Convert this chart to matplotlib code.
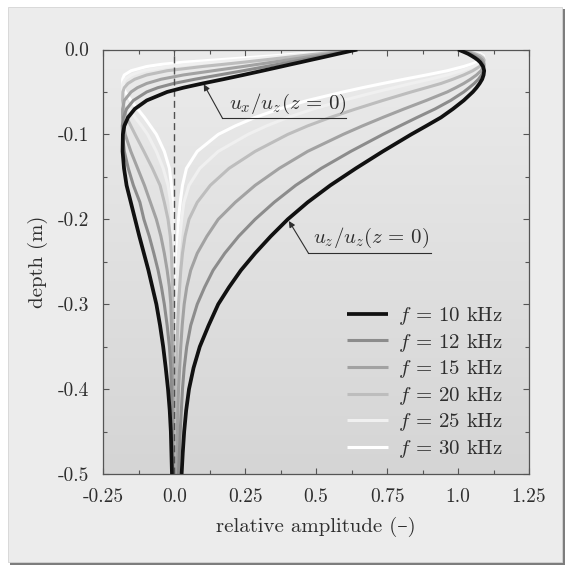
import numpy as np
import matplotlib
matplotlib.use("Agg")
import matplotlib.pyplot as plt
from matplotlib.patches import Rectangle
from matplotlib.colors import LinearSegmentedColormap

# Fonts: computer modern look, fall back for missing glyphs
plt.rcParams['font.family'] = ['cmr10', 'DejaVu Serif']
plt.rcParams['mathtext.fontset'] = 'cm'
plt.rcParams['axes.unicode_minus'] = False

# Data ----------------------------------------------------------------
# depth below the surface (m), same sampling for every curve
depth = [0, .0025, .005, .0075, .01, .0125, .015, .0175, .02, .025, .03, .035,
         .04, .045, .05, .06, .07, .08, .09, .10, .12, .14, .16, .18,
         .20, .22, .24, .26, .28, .30, .325, .35, .375, .40, .425, .45, .475, .50]

freqs = [10, 12, 15, 20, 25, 30]

# vertical amplitude u_z / u_z(z=0)
uz_10 = [1.000, 1.018, 1.035, 1.048, 1.060, 1.070, 1.078, 1.083, 1.088, 1.092, 1.090, 1.085,
         1.076, 1.065, 1.052, 1.020, 0.982, 0.940, 0.888, 0.835, 0.735, 0.640, 0.550, 0.470,
         0.400, 0.340, 0.285, 0.235, 0.193, 0.155, 0.121, 0.090, 0.068, 0.052, 0.042, 0.035,
         0.030, 0.026]
uz_12 = [1.000, 1.021, 1.040, 1.055, 1.066, 1.078, 1.084, 1.089, 1.091, 1.090, 1.083, 1.072,
         1.057, 1.039, 1.020, 0.974, 0.919, 0.856, 0.795, 0.735, 0.622, 0.518, 0.428, 0.352,
         0.285, 0.227, 0.178, 0.137, 0.107, 0.081, 0.058, 0.044, 0.035, 0.029, 0.025, 0.021,
         0.018, 0.015]
uz_15 = [1.000, 1.027, 1.048, 1.065, 1.078, 1.086, 1.090, 1.092, 1.090, 1.081, 1.065, 1.044,
         1.020, 0.992, 0.962, 0.888, 0.810, 0.735, 0.663, 0.595, 0.470, 0.370, 0.285, 0.215,
         0.155, 0.115, 0.081, 0.058, 0.044, 0.035, 0.028, 0.023, 0.019, 0.015, 0.013, 0.011,
         0.010, 0.008]
uz_20 = [1.000, 1.035, 1.060, 1.078, 1.088, 1.092, 1.090, 1.085, 1.076, 1.052, 1.020, 0.982,
         0.940, 0.888, 0.835, 0.735, 0.640, 0.550, 0.470, 0.400, 0.285, 0.193, 0.127, 0.081,
         0.052, 0.038, 0.029, 0.023, 0.019, 0.015, 0.012, 0.010, 0.008, 0.007, 0.006, 0.005,
         0.005, 0.004]
uz_25 = [1.000, 1.042, 1.070, 1.086, 1.092, 1.089, 1.081, 1.068, 1.052, 1.012, 0.962, 0.901,
         0.835, 0.773, 0.711, 0.595, 0.490, 0.400, 0.325, 0.260, 0.155, 0.090, 0.052, 0.034,
         0.026, 0.020, 0.015, 0.012, 0.010, 0.008, 0.007, 0.006, 0.005, 0.004, 0.003, 0.003,
         0.002, 0.002]
uz_30 = [1.000, 1.048, 1.078, 1.090, 1.090, 1.081, 1.065, 1.044, 1.020, 0.962, 0.888, 0.810,
         0.735, 0.663, 0.595, 0.470, 0.370, 0.285, 0.215, 0.155, 0.081, 0.043, 0.029, 0.021,
         0.015, 0.012, 0.009, 0.007, 0.006, 0.005, 0.004, 0.003, 0.003, 0.002, 0.002, 0.002,
         0.001, 0.001]

# horizontal amplitude u_x / u_z(z=0)
ux_10 = [0.645, 0.612, 0.578, 0.545, 0.512, 0.478, 0.445, 0.411, 0.378, 0.311, 0.243, 0.173,
         0.100, 0.032, -0.025, -0.097, -0.139, -0.163, -0.176, -0.181, -0.182, -0.177, -0.168,
         -0.153, -0.138, -0.123, -0.107, -0.091, -0.077, -0.063, -0.050, -0.039, -0.030,
         -0.022, -0.016, -0.012, -0.010, -0.008]
ux_12 = [0.645, 0.605, 0.565, 0.525, 0.485, 0.445, 0.405, 0.365, 0.324, 0.243, 0.158, 0.073,
         -0.002, -0.058, -0.097, -0.144, -0.168, -0.179, -0.183, -0.182, -0.176, -0.162, -0.144,
         -0.121, -0.107, -0.088, -0.072, -0.057, -0.045, -0.035, -0.025, -0.017, -0.012,
         -0.010, -0.008, -0.007, -0.006, -0.005]
ux_15 = [0.645, 0.595, 0.545, 0.495, 0.445, 0.395, 0.345, 0.294, 0.243, 0.137, 0.032, -0.046,
         -0.097, -0.130, -0.152, -0.176, -0.182, -0.182, -0.178, -0.173, -0.153, -0.129, -0.105,
         -0.084, -0.063, -0.047, -0.035, -0.025, -0.017, -0.012, -0.010, -0.008, -0.006,
         -0.005, -0.004, -0.004, -0.003, -0.003]
ux_20 = [0.645, 0.578, 0.512, 0.445, 0.378, 0.311, 0.243, 0.173, 0.100, -0.025, -0.097, -0.139,
         -0.163, -0.176, -0.181, -0.182, -0.177, -0.168, -0.153, -0.138, -0.107, -0.077, -0.050,
         -0.035, -0.022, -0.014, -0.010, -0.008, -0.006, -0.005, -0.004, -0.003, -0.002,
         -0.002, -0.001, -0.001, -0.001, -0.001]
ux_25 = [0.645, 0.562, 0.478, 0.395, 0.311, 0.226, 0.137, 0.050, -0.025, -0.109, -0.152, -0.173,
         -0.181, -0.183, -0.181, -0.173, -0.157, -0.138, -0.115, -0.094, -0.063, -0.039, -0.022,
         -0.012, -0.008, -0.006, -0.005, -0.004, -0.003, -0.002, -0.002, -0.001, -0.001,
         -0.001, 0.000, 0.000, 0.000, 0.000]
ux_30 = [0.645, 0.545, 0.445, 0.345, 0.243, 0.137, 0.032, -0.046, -0.097, -0.152, -0.176, -0.182,
         -0.182, -0.178, -0.173, -0.153, -0.129, -0.105, -0.084, -0.063, -0.035, -0.017, -0.010,
         -0.006, -0.005, -0.004, -0.003, -0.002, -0.002, -0.001, -0.001, 0.000, 0.000,
         0.000, 0.000, 0.000, 0.000, 0.000]

xtick_vals = [-0.25, 0.0, 0.25, 0.5, 0.75, 1.0, 1.25]
xtick_labels = ['-0.25', '0.0', '0.25', '0.5', '0.75', '1.0', '1.25']
ytick_vals = [0.0, -0.1, -0.2, -0.3, -0.4, -0.5]
ytick_labels = ['0.0', '-0.1', '-0.2', '-0.3', '-0.4', '-0.5']

# Styling --------------------------------------------------------------
colors = {10: '#111111', 12: '#8c8c8c', 15: '#a2a2a2', 20: '#bdbdbd', 25: '#f0f0f0', 30: '#ffffff'}
widths = {10: 2.7, 12: 2.2, 15: 2.2, 20: 2.2, 25: 2.2, 30: 2.2}
txt_col = '#2e2e2e'

ux_all = {10: ux_10, 12: ux_12, 15: ux_15, 20: ux_20, 25: ux_25, 30: ux_30}
uz_all = {10: uz_10, 12: uz_12, 15: uz_15, 20: uz_20, 25: uz_25, 30: uz_30}

fig = plt.figure(figsize=(5.72, 5.67), dpi=100, facecolor='white')
# framed light panel with a little shadow (kept behind the axes)
fig.patches.append(Rectangle((10 / 572, 2 / 567), 555 / 572, 556 / 567, transform=fig.transFigure,
                             facecolor='#7d7d7d', edgecolor='none', zorder=-20))
fig.patches.append(Rectangle((8 / 572, 5 / 567), 554 / 572, 555 / 567, transform=fig.transFigure,
                             facecolor='#ececec', edgecolor='#d4d4d4', lw=0.6, zorder=-19))

ax = fig.add_axes([103.3 / 572, 93 / 567, 425.7 / 572, 424.5 / 567])
ax.set_zorder(1)

# gradient background of the plot area
bg = LinearSegmentedColormap.from_list('bg', ['#ebebeb', '#d5d5d5'])
ax.imshow(np.linspace(0, 1, 256).reshape(-1, 1), extent=(-0.25, 1.25, -0.5, 0.0),
          aspect='auto', cmap=bg, origin='upper', zorder=0)

y = -np.array(depth)
for f in freqs[::-1]:
    z = 3 if f == 10 else 2
    ax.plot(ux_all[f], y, color=colors[f], lw=widths[f], zorder=z, solid_capstyle='butt',
            solid_joinstyle='round')
    ax.plot(uz_all[f], y, color=colors[f], lw=widths[f], zorder=z, solid_capstyle='butt',
            solid_joinstyle='round', label=r'$f$ = %d kHz' % f)

# zero line
ax.axvline(0, color='#505050', lw=1.0, dashes=(5, 3), zorder=2.5)

# annotations
ax.annotate('', xy=(0.104, -0.041), xytext=(0.170, -0.081),
            arrowprops=dict(arrowstyle='-|>', color=txt_col, lw=0.8, mutation_scale=9,
                            shrinkA=0, shrinkB=0), zorder=4)
ax.plot([0.170, 0.605], [-0.081, -0.081], color=txt_col, lw=0.8, zorder=4)
ax.text(0.402, -0.064, r'$u_x/u_z(z\,=\,0)$', ha='center', va='center', fontsize=15,
        color=txt_col, zorder=4)

ax.annotate('', xy=(0.404, -0.202), xytext=(0.473, -0.240),
            arrowprops=dict(arrowstyle='-|>', color=txt_col, lw=0.8, mutation_scale=9,
                            shrinkA=0, shrinkB=0), zorder=4)
ax.plot([0.473, 0.905], [-0.240, -0.240], color=txt_col, lw=0.8, zorder=4)
ax.text(0.694, -0.222, r'$u_z/u_z(z\,=\,0)$', ha='center', va='center', fontsize=15,
        color=txt_col, zorder=4)

# axes, ticks
ax.set_xlim(-0.25, 1.25)
ax.set_ylim(-0.5, 0.0)
ax.set_xticks(xtick_vals)
ax.set_xticklabels(xtick_labels)
ax.set_xticks(np.arange(-0.125, 1.25, 0.25), minor=True)
ax.set_yticks(ytick_vals)
ax.set_yticklabels(ytick_labels)
ax.set_yticks(np.arange(-0.45, 0.0, 0.1), minor=True)
ax.tick_params(which='both', direction='in', top=True, right=True, color='#555555',
               width=0.8, labelsize=14, labelcolor=txt_col)
ax.tick_params(axis='x', which='both', pad=10)
ax.tick_params(axis='y', which='both', pad=10)
ax.tick_params(which='major', length=4.5)
ax.tick_params(which='minor', length=3)
for s in ax.spines.values():
    s.set_color('#555555')
    s.set_linewidth(0.9)

ax.set_xlabel('relative amplitude (–)', fontsize=15, color=txt_col, labelpad=8)
ax.set_ylabel('depth (m)', fontsize=15, color=txt_col, labelpad=7)

handles, labels = ax.get_legend_handles_labels()
ax.legend(handles[::-1], labels[::-1], loc='upper left', bbox_to_anchor=(0.572, 0.398),
          frameon=False, fontsize=15, handlelength=2.0, handletextpad=0.45,
          labelspacing=0.22, borderpad=0, borderaxespad=0, labelcolor=txt_col)

fig.savefig('out.png', dpi=100, facecolor=fig.get_facecolor())
